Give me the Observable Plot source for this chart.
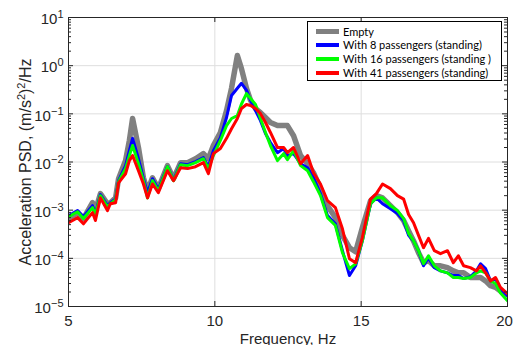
<!DOCTYPE html>
<html><head><meta charset="utf-8">
<script src="https://cdn.jsdelivr.net/npm/d3@7"></script>
<script src="https://cdn.jsdelivr.net/npm/@observablehq/plot@0.6"></script>
<style>
body{margin:0;background:#fff;}
#wrap{position:relative;width:514px;height:345px;overflow:hidden;}
#legend{position:absolute;left:307px;top:21px;width:195px;height:60px;border:1px solid #000;background:#fff;box-sizing:border-box;font-family:Lato,"Liberation Sans",sans-serif;font-size:11px;color:#000;}
.item{position:absolute;left:0;height:14px;width:190px;}
.sw{position:absolute;left:8px;top:50%;width:23px;}
.lab{position:absolute;left:35px;top:0;line-height:14px;white-space:nowrap;}
</style>
</head><body>
<div id="wrap"><div id="chart"></div><div id="legend"></div></div>
<script>
// Frequency (Hz)
const freq = [5.0,5.31,5.51,5.82,5.92,6.09,6.33,6.43,6.61,6.71,6.95,7.08,7.19,7.39,7.56,7.70,7.87,8.07,8.38,8.59,8.83,9.07,9.34,9.61,9.78,9.95,10.19,10.40,10.57,10.77,10.91,11.08,11.22,11.39,11.56,11.73,11.90,12.14,12.35,12.48,12.69,12.93,13.17,13.37,13.61,13.85,14.12,14.36,14.60,14.81,15.04,15.32,15.52,15.73,16.00,16.24,16.45,16.62,16.79,16.96,17.13,17.30,17.50,17.71,17.95,18.15,18.32,18.50,18.73,18.94,19.08,19.25,19.42,19.59,19.76,20.0];
// Acceleration PSD, (m/s^2)^2/Hz
const empty = [6.7e-4,8.9e-4,6.7e-4,1.43e-3,9.8e-4,2.2e-3,1.36e-3,1.43e-3,1.8e-3,4.5e-3,1.07e-2,2.8e-2,8.0e-2,2.0e-2,4.7e-3,2.5e-3,4.7e-3,2.8e-3,8.4e-3,4.5e-3,9.7e-3,9.7e-3,1.17e-2,1.49e-2,1.17e-2,2.2e-2,4.1e-2,0.117,0.34,1.63,0.87,0.34,0.19,0.129,0.106,0.084,0.066,0.057,0.057,0.057,0.035,0.0136,0.0092,0.0060,0.0028,1.24e-3,7.0e-4,3.0e-4,1.66e-4,1.37e-4,4.3e-4,1.57e-3,2.0e-3,1.8e-3,1.24e-3,8.9e-4,6.1e-4,3.7e-4,2.3e-4,1.31e-4,8.1e-5,8.9e-5,7.0e-5,7.0e-5,6.4e-5,5.5e-5,5.0e-5,5.0e-5,4.0e-5,4.0e-5,4.0e-5,3.4e-5,2.7e-5,2.5e-5,2.1e-5,1.75e-5];
const pass8 = [7.7e-4,9.8e-4,7.3e-4,1.24e-3,8.5e-4,2.1e-3,1.24e-3,1.43e-3,1.7e-3,4.1e-3,8.4e-3,1.72e-2,3.1e-2,1.17e-2,4.5e-3,2.3e-3,4.5e-3,2.7e-3,8.0e-3,4.3e-3,9.2e-3,8.8e-3,1.02e-2,1.23e-2,8.0e-3,1.72e-2,3.2e-2,8.4e-2,0.24,0.34,0.43,0.31,0.19,0.117,0.072,0.039,0.0253,0.0156,0.019,0.0136,0.0149,0.0092,0.0076,0.0047,0.0022,7.7e-4,5.2e-4,1.44e-4,4.4e-5,7.0e-5,2.3e-4,1.36e-3,1.8e-3,1.36e-3,1.07e-3,8.5e-4,6.1e-4,3.0e-4,2.3e-4,1.44e-4,7.0e-5,1.03e-4,6.4e-5,5.5e-5,5.0e-5,4.4e-5,4.4e-5,3.8e-5,4.15e-5,5.5e-5,7.7e-5,6.1e-5,3.4e-5,3.8e-5,2.3e-5,1.67e-5];
const pass16 = [7.3e-4,9.3e-4,6.7e-4,1.13e-3,8.1e-4,2.0e-3,1.18e-3,1.36e-3,1.65e-3,3.9e-3,7.3e-3,1.36e-2,2.2e-2,9.2e-3,4.1e-3,1.8e-3,4.1e-3,2.5e-3,8.0e-3,4.1e-3,8.8e-3,8.4e-3,9.7e-3,1.17e-2,7.3e-3,1.36e-2,2.8e-2,5.7e-2,8.0e-2,9.2e-2,0.16,0.264,0.208,0.156,0.080,0.041,0.022,0.0107,0.0149,0.0112,0.0172,0.0084,0.0066,0.0039,0.0020,7.0e-4,4.8e-4,1.31e-4,6.1e-5,7.7e-5,2.3e-4,1.36e-3,1.8e-3,1.8e-3,1.24e-3,9.8e-4,6.7e-4,3.3e-4,2.3e-4,1.44e-4,7.7e-5,1.13e-4,7.0e-5,5.5e-5,5.0e-5,4.0e-5,4.0e-5,3.8e-5,4.0e-5,5.0e-5,5.5e-5,5.0e-5,3.4e-5,3.0e-5,1.9e-5,1.32e-5];
const pass41 = [5.5e-4,7.0e-4,5.2e-4,8.9e-4,6.1e-4,1.8e-3,9.8e-4,1.36e-3,1.43e-3,3.7e-3,5.7e-3,1.07e-2,1.36e-2,6.6e-3,3.5e-3,1.8e-3,3.5e-3,2.3e-3,6.6e-3,4.1e-3,7.6e-3,7.3e-3,8.0e-3,9.7e-3,5.7e-3,1.49e-2,1.9e-2,3.1e-2,4.9e-2,8.0e-2,0.129,0.156,0.149,0.129,0.101,0.066,0.041,0.020,0.020,0.0156,0.020,0.0092,0.0136,0.0060,0.0035,1.57e-3,1.13e-3,4.1e-4,9.8e-5,8.1e-5,2.7e-4,1.7e-3,2.2e-3,3.5e-3,2.8e-3,2.0e-3,1.7e-3,8.1e-4,5.5e-4,3.0e-4,1.66e-4,2.6e-4,1.44e-4,1.25e-4,1.44e-4,8.1e-5,1.13e-4,7.0e-5,6.4e-5,5.5e-5,7.0e-5,5.0e-5,3.4e-5,4.0e-5,2.5e-5,1.84e-5];

const seriesNames = ["Empty","With 8 passengers (standing)","With 16 passengers (standing )","With 41 passengers (standing)"];
const seriesValues = [empty, pass8, pass16, pass41];
const seriesColors = ["#808080","#0000ff","#00ff00","#ff0000"];
const seriesWidths = [5.5, 3, 3, 3];

const xTicks = [5,10,15,20];
const yTicks = [1e-5,1e-4,1e-3,1e-2,1e-1,1,10];
const yMinor = [];
for (let k = -5; k < 1; k++) for (let m = 2; m <= 9; m++) yMinor.push(m * Math.pow(10, k));

const W = 514, H = 345, mL = 68, mR = 7, mT = 17, mB = 39;
const iW = W - mL - mR, iH = H - mT - mB;

const lines = seriesValues.map((vals, i) =>
  Plot.line(freq.map((f, j) => ({f, v: vals[j]})), {x: "f", y: "v", stroke: seriesColors[i], strokeWidth: seriesWidths[i], strokeLinejoin: "round", strokeLinecap: "round", clip: true})
);

const plot = Plot.plot({
  width: W, height: H,
  marginLeft: mL, marginRight: mR, marginTop: mT, marginBottom: mB,
  style: {fontFamily: "'Liberation Sans', Arial, sans-serif", fontSize: "15px", background: "#fff", color: "#262626"},
  x: {domain: [5, 20]},
  y: {type: "log", domain: [1e-5, 10]},
  marks: [
    Plot.gridX(xTicks, {stroke: "#dedede", strokeOpacity: 1}),
    Plot.gridY(yTicks, {stroke: "#dedede", strokeOpacity: 1}),
    ...lines,
    Plot.tickY(yMinor, {y: d => d, insetRight: iW - 3, stroke: "#262626"}),
    Plot.tickY(yMinor, {y: d => d, insetLeft: iW - 3, stroke: "#262626"}),
    Plot.tickY(yTicks, {y: d => d, insetRight: iW - 5, stroke: "#262626"}),
    Plot.tickY(yTicks, {y: d => d, insetLeft: iW - 5, stroke: "#262626"}),
    Plot.tickX(xTicks, {x: d => d, insetTop: iH - 5, stroke: "#262626"}),
    Plot.tickX(xTicks, {x: d => d, insetBottom: iH - 5, stroke: "#262626"}),
    Plot.axisX({ticks: xTicks, tickSize: 0, tickPadding: 9, tickFormat: d => String(d), label: "Frequency, Hz", labelAnchor: "center", labelOffset: 37, labelArrow: "none"}),
    Plot.axisY({ticks: yTicks, tickSize: 0, tickPadding: 5, tickFormat: d => String(Math.round(Math.log10(d))), label: "Acceleration PSD, (m/s2)2/Hz", labelAnchor: "center", labelOffset: 49, labelArrow: "none"}),
    Plot.frame({stroke: "#262626"})
  ]
});
document.getElementById("chart").appendChild(plot);
const ns = "http://www.w3.org/2000/svg";
function tspan(txt, attrs) {
  const s = document.createElementNS(ns, "tspan");
  s.textContent = txt;
  for (const k in attrs) s.setAttribute(k, attrs[k]);
  return s;
}

// superscript exponents on y tick labels
plot.querySelectorAll('g[aria-label="y-axis tick label"] text').forEach(t => {
  const e = t.textContent.replace("-", "\u2212");
  t.textContent = "";
  t.appendChild(tspan("10", {}));
  t.appendChild(tspan(e, {dy: "-6", "font-size": "11px"}));
  t.setAttribute("transform", (t.getAttribute("transform") || "") + " translate(0,2)");
});

// y axis label with superscripts
plot.querySelectorAll('g[aria-label="y-axis label"] text').forEach(t => {
  t.textContent = "";
  t.setAttribute("font-size", "16px");
  t.appendChild(tspan("Acceleration PSD, (m/s", {}));
  t.appendChild(tspan("2", {dy: "-6", "font-size": "11px"}));
  t.appendChild(tspan(")", {dy: "6"}));
  t.appendChild(tspan("2", {dy: "-6", "font-size": "11px"}));
  t.appendChild(tspan("/Hz", {dy: "6"}));
});

// keep last x tick label inside the page
plot.querySelectorAll('g[aria-label="x-axis tick label"] text').forEach(t => {
  if (t.textContent === "20") t.setAttribute("dx", "-3");
});

// legend
const lg = document.getElementById("legend");
const centers = [9.7, 23.3, 37.3, 51.3];
seriesNames.forEach((n, i) => {
  const it = document.createElement("div");
  it.className = "item";
  it.style.top = (centers[i] - 7) + "px";
  const sw = document.createElement("div");
  sw.className = "sw";
  sw.style.height = (i === 0 ? 5 : 4) + "px";
  sw.style.marginTop = (i === 0 ? -2.5 : -2) + "px";
  sw.style.background = seriesColors[i];
  const lb = document.createElement("div");
  lb.className = "lab";
  lb.textContent = n;
  it.appendChild(sw); it.appendChild(lb);
  lg.appendChild(it);
});
</script>
</body></html>
